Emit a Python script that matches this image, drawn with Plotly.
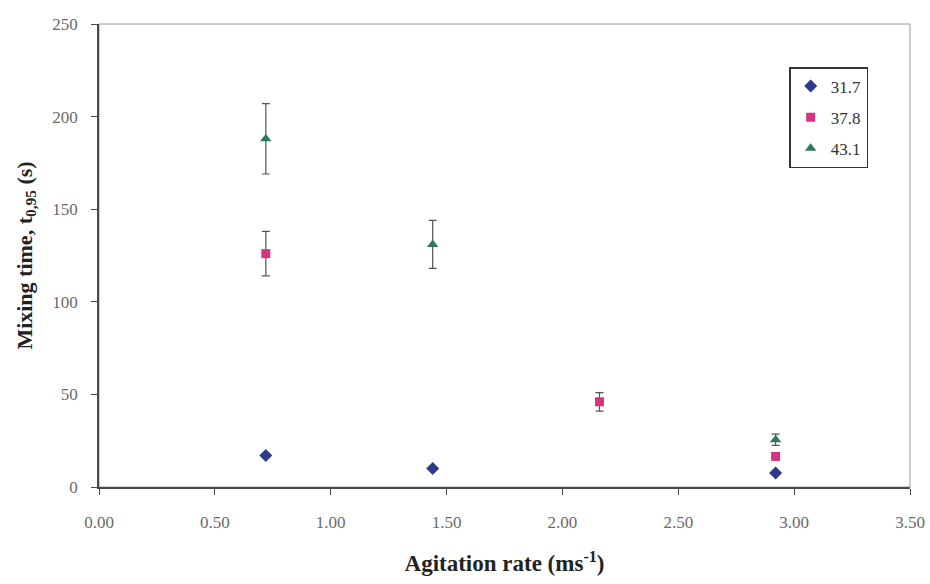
import plotly.graph_objects as go

# Agitation rates (m/s) and mixing times t0.95 (s) per series
series_names = ["31.7", "37.8", "43.1"]

x_317 = [0.72, 1.44, 2.92]
y_317 = [17, 10, 7.5]
err_317 = [0, 0, 0]

x_378 = [0.72, 2.16, 2.92]
y_378 = [126, 46, 16.5]
err_378 = [12, 5, 0]

x_431 = [0.72, 1.44, 2.92]
y_431 = [188, 131, 25.5]
err_431 = [19, 13, 3]

x_ticks = [0, 0.5, 1.0, 1.5, 2.0, 2.5, 3.0, 3.5]
y_ticks = [0, 50, 100, 150, 200, 250]

serif = "Liberation Serif, Times New Roman, serif"
tick_col = "#6a6a6a"
axis_col = "#4a4a4a"
err_col = "#555555"

styles = [
    dict(symbol="diamond", color="#2d3a8c", size=10),
    dict(symbol="square", color="#d5347e", size=9),
    dict(symbol="triangle-up", color="#2f7a5c", size=10),
]

fig = go.Figure()
for name, xs, ys, es, st in zip(
    series_names,
    [x_317, x_378, x_431],
    [y_317, y_378, y_431],
    [err_317, err_378, err_431],
    styles,
):
    fig.add_trace(
        go.Scatter(
            x=xs,
            y=ys,
            name=name,
            mode="markers",
            legendgroup=name,
            marker=dict(symbol=st["symbol"], color=st["color"], size=st["size"],
                        line=dict(width=0)),
            error_y=dict(type="data", array=es, visible=True, color=err_col,
                         thickness=1.2, width=4),
        )
    )

# Plot-area frame (light grey top and right edges)
fig.add_shape(type="rect", xref="x domain", yref="y domain", x0=0, y0=0, x1=1, y1=1,
              line=dict(color="#9a9a9a", width=1), layer="below")

fig.update_layout(
    width=930,
    height=584,
    paper_bgcolor="white",
    plot_bgcolor="white",
    margin=dict(l=99, r=20, t=24, b=97),
    font=dict(family=serif, size=17, color=tick_col),
    showlegend=True,
    legend=dict(
        x=0.851, y=0.907, xanchor="left", yanchor="top",
        bordercolor="#333333", borderwidth=1.5, bgcolor="white",
        font=dict(family=serif, size=17, color="#333333"),
        tracegroupgap=6, itemwidth=30,
    ),
    xaxis=dict(
        range=[0, 3.5],
        tickvals=x_ticks,
        ticktext=[f"{v:.2f}" for v in x_ticks],
        showgrid=False,
        zeroline=False,
        showline=True,
        linecolor=axis_col,
        linewidth=1.5,
        ticks="outside",
        ticklen=6,
        tickcolor=axis_col,
        ticklabelstandoff=13,
        automargin=False,
        tickfont=dict(family=serif, size=17, color=tick_col),
        title=dict(text="<b>Agitation rate (ms<sup>-1</sup>)</b>",
                   font=dict(family=serif, size=23, color="#222222"), standoff=24),
    ),
    yaxis=dict(
        range=[0, 250],
        tickvals=y_ticks,
        showgrid=False,
        zeroline=False,
        showline=True,
        linecolor=axis_col,
        linewidth=1.5,
        ticks="outside",
        ticklen=6,
        tickcolor=axis_col,
        ticklabelstandoff=10,
        automargin=False,
        tickfont=dict(family=serif, size=17, color=tick_col),
        title=dict(text="<b>Mixing time, t<sub>0,95</sub> (s)</b>",
                   font=dict(family=serif, size=22, color="#222222"), standoff=14),
    ),
)

fig.write_html("out.html")
